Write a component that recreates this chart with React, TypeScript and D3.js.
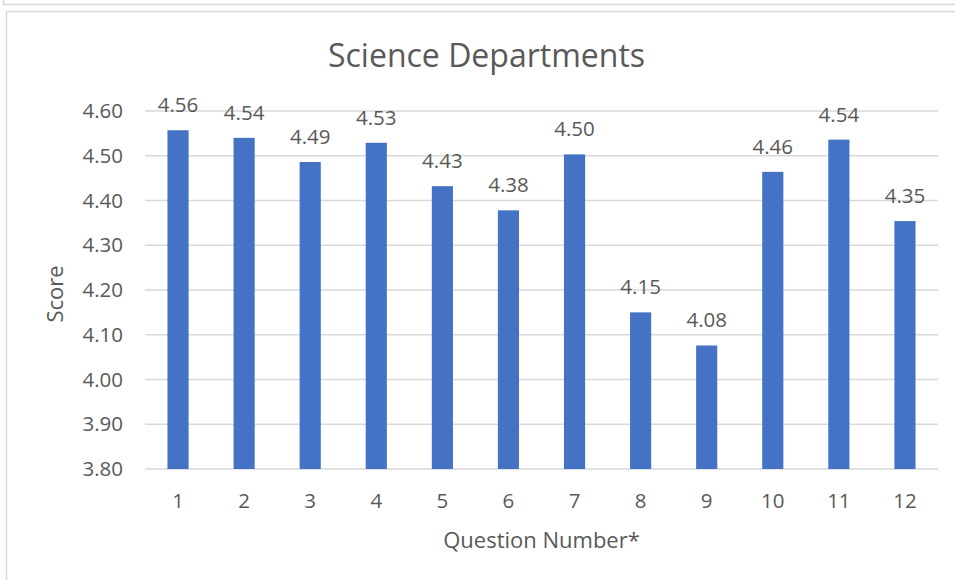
import React, { useEffect, useRef } from "react";
import * as d3 from "d3";

const questions = ["1", "2", "3", "4", "5", "6", "7", "8", "9", "10", "11", "12"];
const scores = [4.557, 4.54, 4.486, 4.529, 4.432, 4.378, 4.503, 4.15, 4.076, 4.464, 4.536, 4.354];
const yTicks = [3.8, 3.9, 4.0, 4.1, 4.2, 4.3, 4.4, 4.5, 4.6];

const FONT = "'Open Sans', 'Noto Sans', sans-serif";
const TEXT = "#595959";

export default function App() {
  const ref = useRef<SVGSVGElement>(null);

  useEffect(() => {
    document.body.style.margin = "0";
    const width = 955, height = 580;
    const margin = { top: 111, right: 17, bottom: 111, left: 145 };
    const w = width - margin.left - margin.right;
    const h = height - margin.top - margin.bottom;

    const svg = d3.select(ref.current!);
    svg.selectAll("*").remove();
    svg.attr("width", width).attr("height", height);

    // outer frames
    svg.append("rect").attr("x", 3.5).attr("y", -10).attr("width", 980).attr("height", 14.5)
      .attr("fill", "none").attr("stroke", "#d9d9d9").attr("stroke-width", 1.5);
    svg.append("rect").attr("x", 6.5).attr("y", 11.5).attr("width", 980).attr("height", 600)
      .attr("fill", "#fff").attr("stroke", "#d9d9d9").attr("stroke-width", 1.5);

    const x = d3.scaleBand().domain(questions).range([0, w]).paddingInner(0.68).paddingOuter(0.34);
    const y = d3.scaleLinear().domain([3.8, 4.6]).range([h, 0]);

    const g = svg.append("g").attr("transform", `translate(${margin.left},${margin.top})`);

    // gridlines
    g.selectAll(".grid")
      .data(yTicks)
      .enter().append("line")
      .attr("x1", 0).attr("x2", w)
      .attr("y1", d => y(d)).attr("y2", d => y(d))
      .attr("stroke", "#d9d9d9").attr("stroke-width", 1.5);

    // y tick labels
    g.selectAll(".ytick")
      .data(yTicks)
      .enter().append("text")
      .attr("x", -22).attr("y", d => y(d))
      .attr("dy", "0.35em").attr("text-anchor", "end")
      .attr("font-family", FONT).attr("font-size", 20.5).attr("fill", TEXT)
      .text(d => d.toFixed(2));

    // bars
    g.selectAll(".bar")
      .data(scores)
      .enter().append("rect")
      .attr("x", (d, i) => x(questions[i])!)
      .attr("width", x.bandwidth())
      .attr("y", d => y(d))
      .attr("height", d => h - y(d))
      .attr("fill", "#4472c4");

    // data labels
    g.selectAll(".label")
      .data(scores)
      .enter().append("text")
      .attr("x", (d, i) => x(questions[i])! + x.bandwidth() / 2)
      .attr("y", d => y(d) - 18)
      .attr("text-anchor", "middle")
      .attr("font-family", FONT).attr("font-size", 20.5).attr("fill", TEXT)
      .text(d => d.toFixed(2));

    // x tick labels
    g.selectAll(".xtick")
      .data(questions)
      .enter().append("text")
      .attr("x", d => x(d)! + x.bandwidth() / 2)
      .attr("y", h + 39)
      .attr("text-anchor", "middle")
      .attr("font-family", FONT).attr("font-size", 20.5).attr("fill", TEXT)
      .text(d => d);

    // titles
    svg.append("text")
      .attr("x", margin.left + w / 2 - 55).attr("y", 67)
      .attr("text-anchor", "middle")
      .attr("font-family", FONT).attr("font-size", 32).attr("fill", TEXT)
      .text("Science Departments");

    svg.append("text")
      .attr("x", margin.left + w / 2).attr("y", 548)
      .attr("text-anchor", "middle")
      .attr("font-family", FONT).attr("font-size", 22).attr("fill", TEXT)
      .text("Question Number*");

    svg.append("text")
      .attr("transform", `translate(63,${margin.top + h / 2 + 4}) rotate(-90)`)
      .attr("text-anchor", "middle")
      .attr("font-family", FONT).attr("font-size", 22).attr("fill", TEXT)
      .text("Score");
  }, []);

  return <svg ref={ref} style={{ display: "block" }} />;
}
